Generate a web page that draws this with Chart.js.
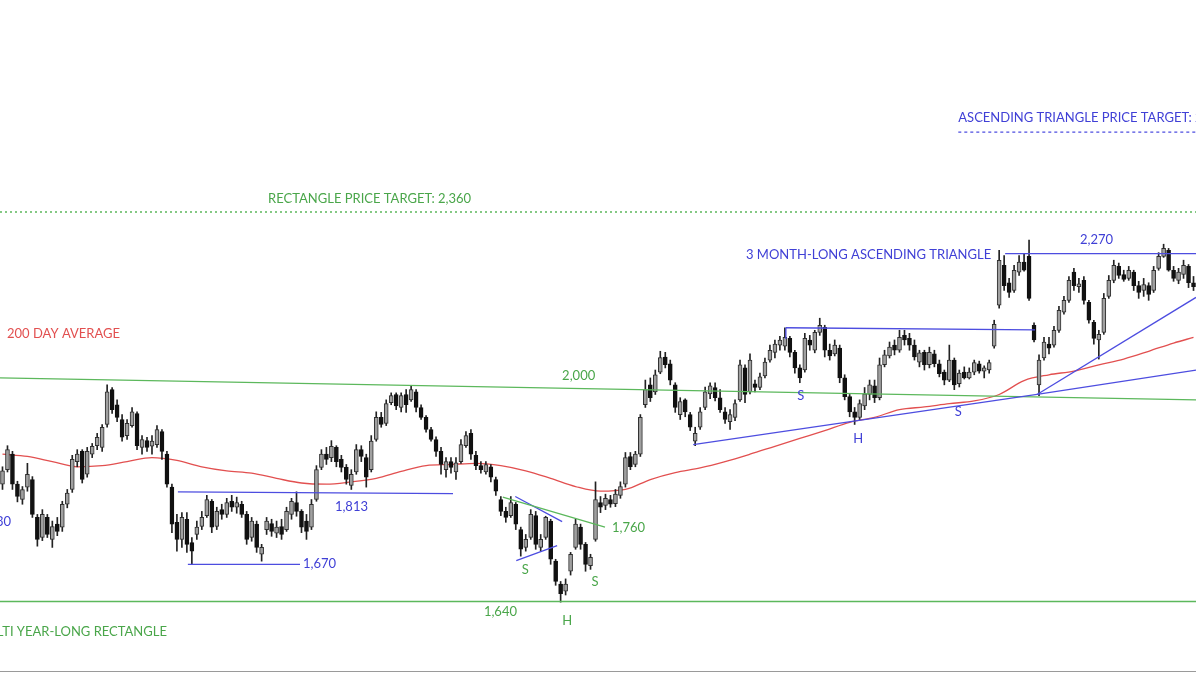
<!DOCTYPE html>
<html>
<head>
<meta charset="utf-8">
<script src="https://cdn.jsdelivr.net/npm/chart.js@4.4.0/dist/chart.umd.min.js"></script>
<style>
  html, body { margin: 0; padding: 0; background: #fff; }
  #wrap { position: relative; width: 1196px; height: 673px; }
</style>
</head>
<body>
<div id="wrap"><canvas id="priceChart"></canvas></div>
<script>
// ---- daily candles (price units) ----
const open = [
  1830,1855,1882,1830,1804,1825,1838,1774,1741,1774, 1738,1763,1758,1796,1821,1869,1887,1847,1882,1897,
  1894,1935,1999,1971,1944,1915,1933,1955,1894,1906, 1896,1899,1922,1882,1825,1766,1738,1771,1733,1746,
  1759,1777,1801,1759,1787,1779,1801,1791,1796,1779, 1741,1763,1714,1754,1764,1748,1759,1754,1779,1799,
  1784,1768,1758,1804,1859,1882,1876,1894,1873,1859, 1828,1851,1890,1876,1855,1908,1948,1937,1975,1990,
  1966,1990,1980,1995,1966,1948,1926,1908,1887,1855, 1869,1851,1869,1897,1919,1880,1862,1851,1860,1838,
  1804,1784,1777,1796,1754,1725,1741,1777,1725,1741, 1768,1703,1667,1656,1687,1725,1758,1730,1696,1738,
  1799,1794,1804,1797,1811,1830,1878,1864,1882,1971, 2008,1995,2032,2061,2048,2008,1953,1980,1953,1905,
  1930,1966,1991,2003,1984,1958,1940,1948,1980,2040, 1995,2010,2003,2025,2055,2070,2084,2082,2097,2070,
  2040,2036,2094,2074,2109,2119,2074,2067,2078,2021, 1986,1958,1948,1969,1990,2006,1984,2046,2063,2084,
  2074,2103,2097,2084,2051,2070,2046,2067,2048,2032, 2017,2055,2010,2032,2021,2032,2048,2034,2036,2082,
  2163,2245,2209,2193,2231,2252,2264,2123,2008,2059, 2086,2084,2113,2149,2173,2231,2201,2214,2169,2129,
  2094,2109,2181,2214,2243,2226,2218,2231,2203,2193, 2203,2193,2239,2264,2277,2235,2214,2226,2243,2209
];
const close = [
  1853,1890,1830,1809,1821,1847,1779,1738,1779,1746, 1759,1751,1796,1815,1873,1882,1838,1887,1896,1912,
  1930,1995,1962,1948,1912,1937,1958,1897,1908,1894, 1905,1926,1887,1830,1763,1738,1774,1730,1719,1758,
  1774,1804,1758,1784,1779,1799,1791,1799,1779,1738, 1768,1725,1725,1768,1751,1758,1746,1784,1801,1784,
  1758,1751,1796,1855,1882,1873,1896,1869,1859,1838, 1847,1890,1878,1842,1905,1948,1935,1973,1988,1969,
  1988,1971,1999,1966,1948,1926,1908,1887,1864,1869, 1859,1867,1899,1915,1882,1862,1855,1864,1842,1818,
  1784,1774,1799,1763,1722,1738,1779,1730,1738,1774, 1706,1671,1652,1667,1714,1763,1730,1698,1709,1804,
  1791,1806,1796,1813,1826,1876,1860,1882,1948,1999, 1984,2027,2060,2046,2017,1966,1977,1958,1930,1919,
  1958,1995,2006,1984,1962,1944,1953,1973,2046,1990, 2055,2003,2023,2051,2074,2086,2094,2099,2070,2040,
  2021,2097,2084,2109,2123,2074,2063,2084,2021,1986, 1958,1948,1973,1991,2008,1984,2046,2065,2080,2074,
  2099,2094,2084,2061,2069,2046,2070,2048,2029,2017, 2055,2008,2030,2021,2032,2050,2034,2040,2050,2125,
  2256,2203,2189,2235,2252,2235,2177,2094,2055,2090, 2078,2113,2153,2173,2214,2203,2207,2173,2133,2097,
  2105,2177,2214,2245,2224,2216,2235,2203,2189,2205, 2185,2235,2264,2281,2235,2218,2231,2245,2209,2201
];
const high = [
  1860,1897,1887,1835,1826,1866,1843,1779,1787,1779, 1768,1774,1801,1821,1880,1890,1890,1894,1901,1919,
  1935,2008,2003,1980,1953,1944,1966,1958,1915,1912, 1915,1933,1926,1887,1830,1779,1782,1782,1741,1768,
  1784,1811,1804,1791,1796,1806,1811,1808,1801,1784, 1774,1768,1730,1774,1771,1768,1771,1791,1806,1817,
  1787,1779,1804,1862,1890,1894,1906,1897,1880,1864, 1855,1899,1897,1882,1915,1958,1957,1980,1993,1993,
  1993,1999,2006,1999,1971,1951,1930,1913,1894,1876, 1876,1876,1908,1922,1926,1887,1869,1869,1864,1842,
  1809,1791,1809,1799,1758,1746,1787,1784,1746,1776, 1771,1706,1671,1675,1717,1771,1763,1733,1714,1834,
  1809,1813,1811,1821,1834,1885,1885,1887,1953,2017, 2021,2036,2072,2070,2055,2012,1984,1982,1957,1930,
  1966,2004,2012,2012,1999,1966,1962,1980,2055,2046, 2067,2017,2030,2059,2084,2094,2101,2118,2101,2074,
  2046,2107,2103,2113,2137,2123,2086,2094,2084,2027, 1990,1966,1980,2003,2017,2017,2059,2074,2090,2094,
  2113,2113,2107,2094,2074,2074,2080,2074,2055,2036, 2084,2059,2036,2042,2040,2055,2053,2044,2055,2133,
  2277,2266,2218,2245,2266,2270,2299,2128,2065,2099, 2099,2121,2161,2181,2222,2239,2218,2222,2173,2133,
  2113,2187,2224,2256,2250,2235,2243,2235,2212,2218, 2209,2243,2272,2290,2281,2243,2239,2256,2247,2222
];
const low = [
  1821,1851,1821,1800,1796,1818,1774,1727,1736,1741, 1725,1744,1751,1790,1816,1860,1832,1842,1876,1890,
  1887,1930,1955,1940,1905,1908,1930,1890,1882,1887, 1882,1894,1873,1825,1749,1719,1725,1717,1698,1738,
  1754,1774,1749,1754,1771,1774,1784,1781,1774,1730, 1735,1717,1703,1746,1743,1741,1738,1751,1771,1776,
  1749,1738,1754,1801,1855,1864,1869,1860,1851,1830, 1821,1847,1869,1825,1851,1905,1930,1933,1971,1962,
  1958,1957,1977,1958,1944,1921,1905,1878,1847,1842, 1849,1838,1866,1894,1873,1855,1849,1847,1834,1811,
  1777,1766,1774,1754,1711,1719,1738,1722,1719,1738, 1698,1665,1639,1650,1681,1722,1722,1687,1690,1735,
  1782,1787,1791,1792,1806,1825,1855,1860,1878,1966, 1977,1990,2029,2040,2008,1957,1944,1949,1924,1897,
  1926,1962,1982,1978,1957,1937,1926,1942,1977,1975, 1991,1995,1999,2021,2051,2059,2074,2074,2061,2030,
  2012,2032,2074,2069,2103,2061,2055,2063,2012,1980, 1949,1935,1944,1962,1980,1975,1980,2042,2059,2065,
  2070,2084,2074,2055,2042,2036,2040,2042,2023,2008, 2014,1999,2004,2019,2019,2027,2030,2021,2030,2078,
  2157,2193,2179,2189,2224,2233,2173,2090,1988,2055, 2067,2080,2109,2145,2169,2193,2189,2165,2127,2086,
  2057,2105,2177,2209,2218,2212,2214,2193,2177,2181, 2173,2189,2235,2262,2233,2212,2207,2218,2199,2193
];

// ---- 200 day average, read every fifth session ----
const maDay = [0,5,10,15,20,25,30,35,40,45,50,55,60,65,70,75,80,85,90,95,100,105,110,115,120,
               125,130,135,140,145,150,155,160,165,170,175,180,185,190,195,200,205,210,215,220,225,230,235,239];
const maValue = [1882,1878,1869,1860,1862,1869,1876,1871,1860,1853,1849,1840,1832,1830,1834,1840,1852,1862,1864,1866,1862,
                 1853,1840,1826,1818,1821,1838,1850,1858,1869,1882,1896,1910,1924,1939,1948,1962,1967,1973,1978,1990,
                 2016,2027,2034,2046,2057,2072,2088,2099];

const days = open.map((_, i) => i);

const GREEN = '#5cb85c';
const GREEN_TXT = '#4aa64a';
const BLUE = '#4d4de0';
const BLUE_TXT = '#4040d6';
const RED = '#e25050';

// trend lines drawn on top, in (session, price)
const trendLines = [
  { from: [-0.5, 2360], to: [239.5, 2360], color: GREEN, dash: [2, 3], width: 1.5 },
  { from: [191.8, 2543], to: [239.5, 2543], color: BLUE, dash: [3, 3], width: 1.3 },
  { from: [-0.5, 2021], to: [239.5, 1980], color: GREEN, width: 1.3 },
  { from: [-0.5, 1640], to: [239.5, 1640], color: GREEN, width: 1.3 },
  { from: [35.2, 1817], to: [90.4, 1814], color: BLUE, width: 1.3 },
  { from: [37.2, 1698], to: [59.7, 1698], color: BLUE, width: 1.3 },
  { from: [102.9, 1809], to: [112.3, 1767], color: BLUE, width: 1.3 },
  { from: [103.1, 1704], to: [111.3, 1728], color: BLUE, width: 1.3 },
  { from: [100.4, 1808], to: [120.9, 1758], color: GREEN, width: 1.3 },
  { from: [157.2, 2096], to: [157.2, 2118], color: BLUE, width: 1.3 },
  { from: [157.2, 2118], to: [207.2, 2114], color: BLUE, width: 1.3 },
  { from: [138.6, 1899], to: [207.6, 1990], color: BLUE, width: 1.3 },
  { from: [207.6, 1990], to: [239.5, 2179], color: BLUE, width: 1.3 },
  { from: [207.6, 1990], to: [239.5, 2036], color: BLUE, width: 1.3 },
  { from: [201.2, 2270], to: [239.5, 2270], color: BLUE, width: 1.3 }
];

const notes = [
  { text: 'ASCENDING TRIANGLE PRICE TARGET: 2,540', at: [191.8, 2577], color: BLUE_TXT },
  { text: 'RECTANGLE PRICE TARGET: 2,360', at: [53.3, 2389], color: GREEN_TXT },
  { text: '3 MONTH-LONG ASCENDING TRIANGLE', at: [149.2, 2268], color: BLUE_TXT },
  { text: '2,270', at: [216.2, 2299], color: BLUE_TXT },
  { text: '200 DAY AVERAGE', at: [0.9, 2106], color: RED },
  { text: '2,000', at: [112.3, 2025], color: GREEN_TXT },
  { text: 'S', at: [160.2, 1988], color: BLUE_TXT, align: 'center' },
  { text: 'H', at: [171.7, 1910], color: BLUE_TXT, align: 'center' },
  { text: 'S', at: [191.8, 1958], color: BLUE_TXT, align: 'center' },
  { text: '1,813', at: [66.7, 1792], color: BLUE_TXT },
  { text: '1,670', at: [60.3, 1698], color: BLUE_TXT },
  { text: '1,730', at: [1.7, 1766], color: BLUE_TXT, align: 'right' },
  { text: '1,760', at: [122.3, 1757], color: GREEN_TXT },
  { text: 'S', at: [104.9, 1690], color: GREEN_TXT, align: 'center' },
  { text: 'S', at: [118.9, 1671], color: GREEN_TXT, align: 'center' },
  { text: 'H', at: [113.3, 1610], color: GREEN_TXT, align: 'center' },
  { text: '1,640', at: [96.6, 1625], color: GREEN_TXT },
  { text: 'MULTI YEAR-LONG RECTANGLE', at: [33.0, 1594], color: GREEN_TXT, align: 'right' }
];

const overlayPlugin = {
  id: 'overlay',
  afterDatasetsDraw(chart) {
    const { ctx, chartArea } = chart;
    const x = chart.scales.x;
    const y = chart.scales.y;
    ctx.save();
    trendLines.forEach(l => {
      ctx.beginPath();
      ctx.strokeStyle = l.color;
      ctx.lineWidth = l.width;
      ctx.setLineDash(l.dash || []);
      ctx.moveTo(x.getPixelForValue(l.from[0]), y.getPixelForValue(l.from[1]));
      ctx.lineTo(x.getPixelForValue(l.to[0]), y.getPixelForValue(l.to[1]));
      ctx.stroke();
    });
    ctx.setLineDash([]);
    ctx.textBaseline = 'middle';
    ctx.font = '13px Lato, sans-serif';
    notes.forEach(n => {
      ctx.fillStyle = n.color;
      ctx.textAlign = n.align || 'left';
      ctx.fillText(n.text, x.getPixelForValue(n.at[0]), y.getPixelForValue(n.at[1]));
    });
    // thin frame line along the bottom
    ctx.strokeStyle = '#9a9a9a';
    ctx.lineWidth = 1;
    ctx.beginPath();
    ctx.moveTo(chartArea.left, chartArea.bottom - 1.5);
    ctx.lineTo(chartArea.right, chartArea.bottom - 1.5);
    ctx.stroke();
    ctx.restore();
  }
};

const isUp = open.map((o, i) => close[i] >= o);

new Chart(document.getElementById('priceChart'), {
  type: 'bar',
  data: {
    labels: days,
    datasets: [
      {
        label: 'Body',
        data: open.map((o, i) => [o, close[i]]),
        backgroundColor: isUp.map(u => u ? '#a0a0a0' : '#111111'),
        borderColor: isUp.map(u => u ? '#2e2e2e' : '#111111'),
        borderWidth: 1,
        borderSkipped: false,
        barThickness: 4,
        minBarLength: 1,
        grouped: false,
        order: 0
      },
      {
        label: 'Wick',
        data: low.map((l, i) => [l, high[i]]),
        backgroundColor: '#222222',
        barThickness: 1,
        grouped: false,
        order: 1
      },
      {
        type: 'line',
        label: '200 day average',
        data: maDay.map((d, j) => ({ x: d, y: maValue[j] })),
        borderColor: RED,
        borderWidth: 1.3,
        pointRadius: 0,
        tension: 0.4,
        cubicInterpolationMode: 'monotone',
        order: 2
      }
    ]
  },
  options: {
    responsive: true,
    maintainAspectRatio: false,
    animation: false,
    layout: { padding: 0 },
    plugins: {
      legend: { display: false },
      tooltip: { enabled: false }
    },
    scales: {
      x: {
        type: 'category',
        display: false,
        offset: true,
        grid: { display: false }
      },
      y: {
        type: 'logarithmic',
        display: false,
        min: 1534,
        max: 2877,
        grid: { display: false }
      }
    }
  },
  plugins: [overlayPlugin]
});
</script>
</body>
</html>
